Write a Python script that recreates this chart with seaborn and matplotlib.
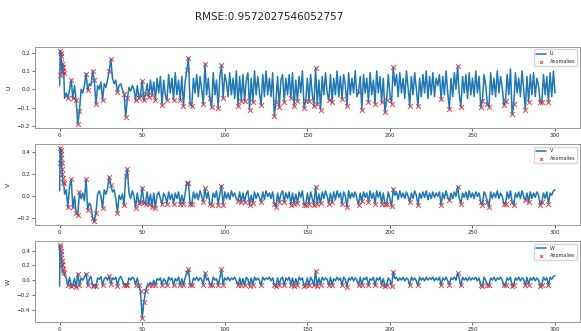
import numpy as np
import pandas as pd
import matplotlib
matplotlib.use("Agg")
import matplotlib.pyplot as plt
import seaborn as sns

# time axis: dense start, then one sample per unit
t_head = [0, 0.2, 0.4, 0.6, 0.8, 1.0, 1.2, 1.4, 1.6, 1.8, 2.0, 2.5]
t_main = list(range(3, 301))

u_head = [0.02, 0.08, 0.21, 0.18, 0.2, 0.15, 0.12, 0.1, 0.14, 0.12, 0.1, 0.09]
v_head = [0.05, 0.3, 0.44, 0.38, 0.42, 0.35, 0.3, 0.25, 0.2, 0.17, 0.13, 0.12]
w_head = [-0.08, 0.48, 0.45, 0.4, 0.35, 0.3, 0.26, 0.22, 0.2, 0.15, 0.12, 0.1]

u_main = [
    -0.05, -0.02, -0.05, 0.0, 0.05, -0.05, 0.02,
    -0.06, -0.19, -0.12, 0.0, -0.02, 0.02, 0.085, -0.005, 0.03, 0.02,
    0.1, 0.05, -0.08, 0.02, 0.0, 0.04, -0.06, 0.03, 0.01, 0.05,
    0.1, 0.165, 0.06, 0.03, 0.05, -0.015, 0.02, 0.03, 0.0, -0.025,
    -0.15, -0.05, 0.01, -0.01, 0.02, 0.0, -0.06, 0.02, -0.05, -0.03,
    0.045, -0.06, -0.025, 0.03, -0.04, 0.05, -0.03, 0.04, -0.058, 0.06,
    -0.02, 0.07, -0.085, 0.05, -0.03, -0.06, 0.08, -0.02, 0.06, -0.058,
    0.09, -0.03, 0.05, -0.058, 0.07, -0.09, 0.04, 0.105, 0.17, -0.08,
    -0.09, 0.06, -0.02, 0.08, -0.04, 0.07, 0.0, -0.08, 0.138, -0.03,
    0.06, -0.05, -0.098, 0.09, -0.03, 0.05, -0.1, 0.07, 0.13, -0.047,
    0.08, 0.04, -0.04, 0.09, -0.03, 0.06, -0.05, 0.1, -0.09, 0.07,
    -0.062, 0.08, -0.063, 0.05, 0.09, -0.11, 0.06, -0.07, 0.1, -0.03,
    0.07, -0.02, -0.085, 0.08, -0.04, 0.1, -0.03, 0.06, -0.04, 0.09,
    -0.143, -0.067, 0.07, -0.095, 0.05, 0.08, -0.067, 0.06, -0.03, 0.08,
    -0.047, 0.09, -0.09, 0.05, -0.065, 0.07, -0.02, 0.1, -0.1, -0.065,
    0.06, -0.065, 0.08, -0.03, -0.09, 0.116, -0.08, 0.05, -0.11, 0.07,
    -0.03, 0.09, -0.02, -0.058, 0.08, -0.07, 0.06, -0.03, 0.1, -0.04,
    0.07, -0.053, 0.08, 0.02, -0.09, 0.09, -0.03, 0.06, -0.02, 0.1,
    -0.04, -0.015, 0.07, -0.11, 0.08, -0.02, 0.06, -0.07, 0.09, -0.03,
    0.05, -0.078, 0.1, -0.02, 0.07, -0.07, 0.06, -0.125, -0.058, 0.08,
    -0.03, -0.078, 0.12, 0.02, 0.08, -0.04, 0.09, -0.02, 0.06, -0.05,
    0.1, 0.01, -0.09, 0.07, -0.03, 0.09, 0.0, -0.09, 0.06, -0.04,
    0.08, -0.02, 0.1, -0.05, 0.07, -0.03, 0.09, -0.04, 0.06, 0.02,
    0.08, -0.053, 0.07, -0.03, 0.1, -0.02, -0.107, 0.06, -0.04, 0.09,
    0.0, 0.124, -0.03, -0.095, 0.07, -0.02, 0.08, -0.05, 0.09, -0.03,
    0.06, -0.04, 0.1, -0.02, 0.07, -0.096, -0.065, 0.08, 0.02, -0.08,
    -0.095, 0.09, -0.03, 0.06, -0.04, 0.1, -0.02, 0.07, 0.01, -0.085,
    -0.064, 0.08, -0.03, 0.11, -0.136, -0.08, 0.09, -0.02, 0.06, -0.04,
    0.1, 0.0, -0.11, 0.07, -0.067, 0.08, -0.03, 0.09, -0.04, 0.06,
    0.02, -0.07, -0.07, 0.08, -0.03, 0.07, -0.07, 0.09, -0.04, 0.1,
    -0.02,
]

v_main = [
    0.02, 0.06, -0.1, 0.09, 0.155, -0.1, 0.0,
    -0.15, -0.165, 0.035, -0.02, 0.03, -0.04, 0.156, -0.12, -0.06, -0.09,
    -0.2, -0.226, -0.15, 0.02, 0.05, 0.0, -0.104, 0.06, 0.02, 0.07,
    0.175, 0.104, 0.04, 0.06, -0.02, -0.147, 0.01, -0.03, 0.02, -0.08,
    0.18, 0.248, 0.03, -0.02, 0.05, 0.0, -0.104, 0.03, -0.06, -0.05,
    0.08, -0.05, -0.073, 0.04, -0.073, 0.02, -0.095, 0.03, -0.104, 0.01,
    0.04, -0.02, -0.07, 0.03, 0.0, -0.065, 0.04, -0.03, 0.02, -0.065,
    0.03, -0.02, 0.04, -0.065, 0.01, -0.065, 0.03, 0.12, 0.12, -0.07,
    -0.07, 0.04, -0.02, 0.03, -0.03, 0.05, 0.0, -0.05, 0.073, -0.02,
    0.04, -0.07, -0.075, 0.03, -0.01, 0.05, -0.075, 0.02, 0.098, -0.075,
    0.04, -0.02, 0.03, -0.03, 0.05, 0.0, 0.03, -0.02, -0.043, 0.04,
    -0.05, 0.03, -0.05, 0.02, 0.05, -0.08, 0.01, -0.06, 0.04, -0.02,
    0.03, -0.01, -0.05, 0.04, -0.03, 0.05, 0.0, 0.03, -0.02, 0.04,
    -0.065, -0.095, 0.03, -0.05, 0.02, 0.05, -0.05, 0.03, -0.02, 0.04,
    -0.075, 0.03, -0.065, 0.02, -0.06, 0.04, -0.01, 0.05, -0.075, -0.075,
    0.03, -0.065, 0.04, -0.02, -0.08, 0.089, -0.065, 0.02, -0.06, 0.04,
    -0.02, 0.05, 0.0, -0.065, 0.03, -0.05, 0.04, -0.03, 0.05, -0.01,
    0.03, -0.065, 0.04, 0.0, -0.095, 0.05, -0.02, 0.03, -0.01, 0.04,
    -0.02, -0.08, 0.03, -0.043, 0.04, -0.01, 0.03, -0.05, 0.05, -0.02,
    0.03, -0.065, 0.05, -0.01, 0.04, -0.065, 0.03, -0.065, -0.065, 0.04,
    -0.02, -0.09, 0.067, 0.01, 0.04, -0.03, 0.05, -0.01, 0.03, -0.02,
    0.04, 0.0, -0.05, 0.03, -0.02, 0.05, 0.01, -0.08, 0.03, -0.02,
    0.04, -0.01, 0.05, -0.03, 0.03, -0.02, 0.04, -0.01, 0.03, 0.0,
    0.04, -0.08, 0.03, -0.02, 0.05, -0.01, -0.035, 0.03, -0.02, 0.04,
    0.0, 0.089, -0.02, -0.065, 0.03, -0.01, 0.04, -0.03, 0.05, -0.01,
    0.03, -0.02, 0.04, 0.0, 0.03, -0.05, -0.075, 0.04, 0.01, -0.05,
    -0.095, 0.04, -0.02, 0.03, -0.01, 0.05, -0.02, 0.03, 0.0, -0.065,
    -0.065, 0.04, -0.02, 0.05, -0.05, -0.08, 0.03, -0.01, 0.04, -0.02,
    0.05, 0.0, -0.035, 0.03, -0.05, 0.04, -0.02, 0.03, -0.01, 0.04,
    0.01, -0.075, -0.05, 0.03, -0.02, 0.04, -0.065, 0.03, 0.01, 0.05,
    0.06,
]

w_main = [
    0.06, 0.03, -0.07, 0.04, -0.08, -0.06, 0.02,
    -0.09, 0.09, -0.07, 0.03, 0.0, 0.04, 0.09, -0.07, 0.02, 0.05,
    -0.08, -0.06, -0.08, 0.03, 0.01, 0.05, -0.07, 0.02, 0.04, 0.0,
    0.05, -0.05, 0.03, 0.01, 0.04, -0.08, 0.02, 0.05, 0.0, -0.07,
    -0.07, -0.06, 0.03, 0.0, 0.04, 0.02, -0.06, 0.03, -0.07, -0.15,
    -0.52, -0.3, -0.15, -0.07, -0.06, -0.03, -0.07, 0.0, -0.07, 0.02,
    0.0, 0.03, -0.07, 0.02, -0.01, -0.06, 0.04, 0.0, 0.03, -0.07,
    0.02, -0.01, 0.04, -0.07, 0.02, -0.06, 0.03, 0.1, 0.145, -0.06,
    -0.07, 0.03, 0.0, 0.04, -0.01, 0.03, 0.01, -0.06, 0.1, 0.0,
    0.03, -0.06, -0.07, 0.04, 0.0, 0.02, -0.07, 0.03, 0.145, -0.06,
    0.03, 0.0, 0.04, -0.01, 0.03, 0.01, 0.04, -0.01, -0.07, 0.03,
    -0.06, 0.02, -0.07, 0.04, 0.01, -0.08, 0.03, -0.06, 0.04, 0.0,
    0.03, -0.01, -0.07, 0.04, 0.0, 0.03, 0.01, 0.04, -0.01, 0.03,
    -0.07, -0.08, 0.03, -0.06, 0.02, 0.04, -0.07, 0.03, 0.0, 0.04,
    -0.06, 0.03, -0.08, 0.02, -0.06, 0.04, 0.0, 0.03, -0.08, -0.06,
    0.03, -0.07, 0.04, 0.0, -0.07, 0.12, -0.08, 0.03, -0.06, 0.04,
    0.0, 0.03, 0.01, -0.07, 0.04, -0.06, 0.02, -0.01, 0.04, 0.0,
    0.03, -0.07, 0.04, 0.01, -0.09, 0.03, 0.0, 0.04, -0.01, 0.03,
    0.0, -0.07, 0.04, -0.06, 0.03, 0.01, 0.04, -0.07, 0.02, 0.0,
    0.04, -0.07, 0.03, 0.0, 0.04, -0.06, 0.02, -0.08, -0.07, 0.03,
    0.0, -0.08, 0.11, 0.02, 0.04, -0.01, 0.03, 0.0, 0.04, -0.01,
    0.03, 0.01, -0.07, 0.04, 0.0, 0.03, -0.01, -0.07, 0.04, 0.0,
    0.03, -0.01, 0.04, 0.0, 0.03, 0.01, 0.04, -0.01, 0.03, 0.0,
    0.04, -0.07, 0.03, 0.0, 0.04, -0.01, -0.06, 0.03, 0.01, 0.04,
    0.0, 0.1, 0.02, -0.07, 0.04, 0.0, 0.03, -0.01, 0.04, 0.0,
    0.03, 0.01, 0.04, -0.01, 0.03, -0.06, -0.08, 0.04, 0.0, -0.06,
    -0.07, 0.03, 0.0, 0.04, -0.01, 0.03, 0.01, 0.04, 0.0, -0.07,
    -0.06, 0.03, 0.0, 0.04, -0.08, -0.06, 0.03, 0.0, 0.04, -0.01,
    0.03, 0.01, -0.07, 0.04, -0.06, 0.03, 0.0, 0.04, -0.01, 0.03,
    0.0, -0.08, -0.06, 0.04, 0.0, 0.03, -0.07, 0.04, 0.01, 0.05,
    0.06,
]

# anomaly times, shared by all three components
anom_t = [0.2, 0.4, 0.6, 0.8, 1.0, 1.2, 1.4, 1.6, 1.8, 2.0, 2.5,
          5, 7, 8, 10, 11, 12, 16, 17, 20, 21, 22, 26, 30, 31, 35, 39, 40, 41,
          46, 48, 49, 50, 51, 52, 54, 56, 58, 62, 65, 69, 73, 75, 77, 78, 79, 80,
          87, 88, 91, 92, 96, 98, 99, 108, 110, 112, 115, 117, 122, 130, 131,
          133, 136, 140, 142, 144, 148, 149, 151, 154, 155, 156, 158, 163, 165,
          171, 174, 181, 183, 187, 191, 195, 197, 198, 201, 202, 212, 217, 231,
          236, 241, 243, 255, 256, 259, 260, 269, 270, 274, 275, 282, 284, 291,
          292, 296]

rmse = "0.9572027546052757"

t = t_head + t_main
df = pd.DataFrame({"t": t, "U": u_head + u_main, "V": v_head + v_main, "W": w_head + w_main})
anom = df[df["t"].isin(anom_t)]

sns.set_style("ticks")
fig, axes = plt.subplots(3, 1, figsize=(5.81, 3.31), dpi=100)
fig.subplots_adjust(left=0.06, right=0.998, top=0.858, bottom=0.027, hspace=0.2)

for ax, col in zip(axes, ["U", "V", "W"]):
    sns.lineplot(data=df, x="t", y=col, ax=ax, color="#1f77b4", lw=1.1,
                 estimator=None, label=col)
    sns.scatterplot(data=anom, x="t", y=col, ax=ax, marker="x", color="red",
                    s=12, linewidth=0.8, alpha=0.7, label="Anomalies")
    ax.set_xlabel("")
    ax.set_ylabel(col, fontsize=4.5, labelpad=4)
    ax.tick_params(labelsize=4, length=2, width=0.5, pad=1.5)
    for s in ax.spines.values():
        s.set_color("#999999")
        s.set_linewidth(0.7)
    ax.legend(loc="upper right", fontsize=3.5, markerscale=0.6, handlelength=2,
              borderpad=0.4, labelspacing=0.5, framealpha=0.8)

fig.suptitle("RMSE:" + rmse, x=0.463, y=0.965, fontsize=7.5, color="#222222")
fig.savefig("out.png", dpi=100)
